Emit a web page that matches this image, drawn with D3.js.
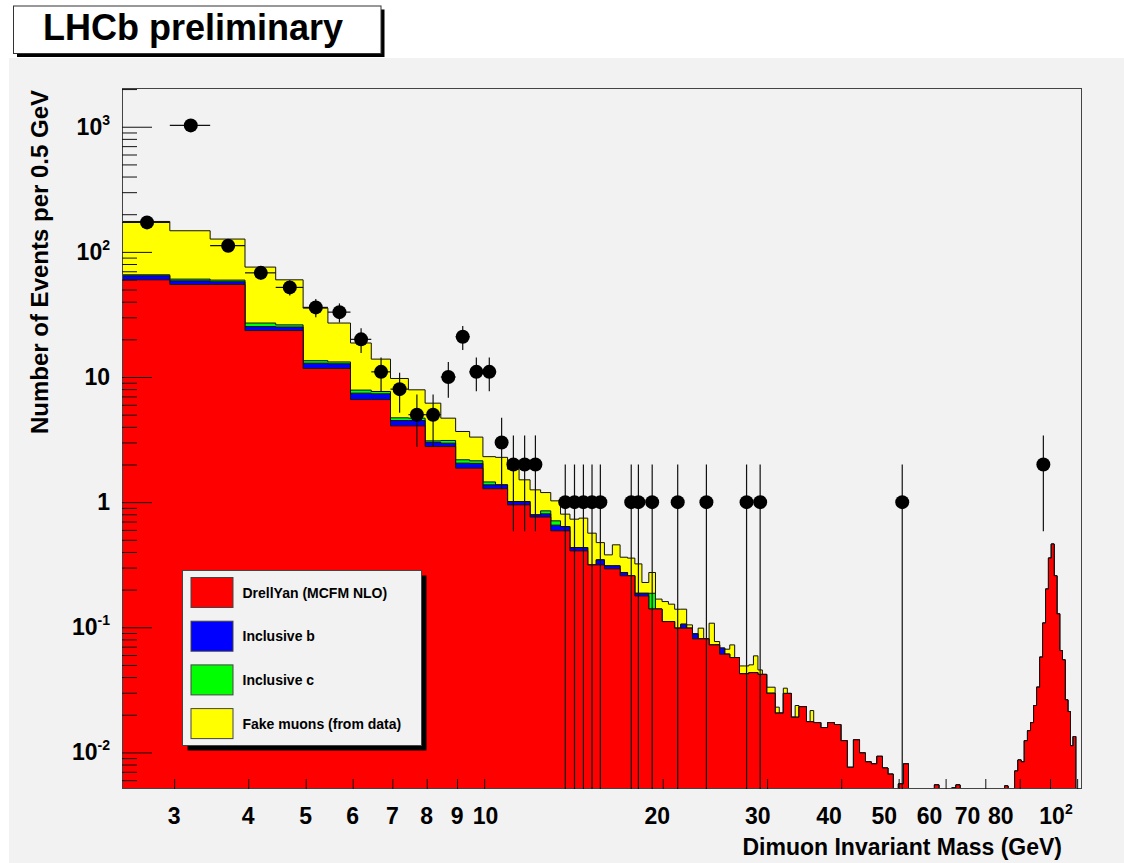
<!DOCTYPE html>
<html>
<head>
<meta charset="utf-8">
<script src="https://cdnjs.cloudflare.com/ajax/libs/d3/7.8.5/d3.min.js"></script>
<style>
  body { margin: 0; background: #ffffff; }
  svg text { font-family: "Liberation Sans", Arial, Helvetica, sans-serif; font-weight: bold; fill: #000; }
</style>
</head>
<body>
<svg id="chart" width="1124" height="863"></svg>
<script>
// ---- binning: 0.5 GeV bins starting at 2.45 GeV ----
const binLow = 2.45;
const binWidth = 0.5;
const nBins = 194;

// Drell-Yan (MCFM NLO) expectation per bin
const drellYan = [
  59.8, 54.9, 54.9, 23.5, 23.5, 11.7, 11.7, 6.6, 6.6, 4.07,
  4.07, 2.78, 2.78, 1.87, 1.87, 1.28, 1.28, 0.951, 0.951, 0.76,
  0.76, 0.59, 0.59, 0.408, 0.408, 0.315, 0.315, 0.293, 0.293, 0.258,
  0.258, 0.178, 0.178, 0.140, 0.140, 0.111, 0.111, 0.0984, 0.0984, 0.0984,
  0.0808, 0.0808, 0.0808, 0.0723, 0.0723, 0.0610, 0.0610, 0.0573, 0.0573, 0.0425,
  0.0425, 0.0434, 0.0434, 0.042, 0.042, 0.0297, 0.0297, 0.0206, 0.0206, 0.0296,
  0.0296, 0.0191, 0.0191, 0.0232, 0.0232, 0.0176, 0.0176, 0.0173, 0.0173, 0.0158,
  0.0158, 0.0173, 0.0173, 0.0167, 0.0167, 0.0124, 0.0124, 0.0076, 0.0076, 0.0126,
  0.0126, 0.0099, 0.0099, 0.0084, 0.0084, 0.0081, 0.0081, 0.0093, 0.0093, 0.0075,
  0.0075, 0.0067, 0.0067, 0, 0, 0.0056, 0.0056, 0.0081, 0.0081, 0,
  0, 0, 0, 0, 0, 0, 0, 0, 0, 0,
  0.0055, 0.0055, 0, 0, 0, 0, 0, 0, 0.0052, 0.0052,
  0.0055, 0.0055, 0, 0, 0, 0, 0, 0, 0, 0,
  0, 0, 0, 0, 0, 0, 0, 0, 0, 0,
  0, 0, 0, 0, 0, 0, 0.0054, 0.0054, 0, 0,
  0, 0, 0.0071, 0.0071, 0.0087, 0.0087, 0.0084, 0.0084, 0.0124, 0.0124,
  0.0149, 0.0149, 0.0173, 0.0173, 0.0237, 0.0237, 0.0332, 0.0332, 0.0577, 0.0577,
  0.108, 0.108, 0.202, 0.202, 0.357, 0.357, 0.462, 0.462, 0.258, 0.258,
  0.128, 0.128, 0.0651, 0.0651, 0.0549, 0.0549, 0.0263, 0.0263, 0.0212, 0.0212,
  0.0113, 0.0113, 0.0134, 0.0134
];

// Inclusive b contribution per bin (later bins are empty)
const inclusiveB = [
  4.6, 3.8, 2.8, 1.8, 1.6, 1.2, 1.05, 0.83, 0.74, 0.42,
  0.42, 0.23, 0.18, 0.18, 0.17, 0.095, 0.095, 0.06, 0.06, 0.032,
  0.046, 0.065, 0.048, 0.026, 0.026, 0, 0.031, 0.017, 0.017, 0.016,
  0, 0.009, 0.009, 0, 0, 0, 0, 0, 0.0075, 0,
  0.0078, 0, 0, 0, 0, 0.0071
];

// Inclusive c contribution per bin
const inclusiveC = [
  1.2, 1.9, 1.8, 1.7, 1.0, 0.6, 0.45, 0.43, 0.32, 0.23,
  0.20, 0.08, 0.15, 0.13, 0.10, 0.075, 0, 0, 0, 0,
  0.046, 0.054, 0, 0, 0, 0, 0, 0, 0, 0,
  0, 0, 0, 0.047
];

// Fake muons (from data) per bin
const fakeMuons = [
  109.4, 86.9, 67.1, 48.6, 33.7, 22.0, 13.8, 10.84, 6.24, 5.01,
  3.21, 3.09, 1.58, 1.49, 1.17, 0.86, 0.905, 0.824, 0.497, 0.462,
  0.341, 0.315, 0.164, 0.297, 0.311, 0.250, 0.129, 0.069, 0.146, 0.089,
  0.099, 0.134, 0.041, 0.087, 0.028, 0.0495, 0.042, 0.041, 0.0336, 0.0061,
  0, 0.0176, 0, 0.0355, 0.0046, 0, 0.0058, 0.015, 0, 0.0066,
  0.0066, 0.0067, 0.0157, 0.0036, 0, 0.0035, 0.0035, 0.0024, 0, 0.003,
  0, 0, 0.0046, 0, 0, 0, 0.004
];

// Observed events: bin index and count
const dataBins   = [0, 1, 2, 3, 4, 5, 6, 7, 8, 9, 10, 11, 12, 13, 14, 15, 16, 17, 18, 19,
                    22, 23, 24, 25, 26, 30, 31, 33, 37, 42, 50, 53, 96, 170];
const dataCounts = [172, 1025, 112, 68, 52, 36, 33, 20, 11, 8, 5, 5, 10, 21, 11, 11, 3, 2, 2, 2,
                    1, 1, 1, 1, 1, 1, 1, 1, 1, 1, 1, 1, 1, 2];

const xTickValues = [3, 4, 5, 6, 7, 8, 9, 10, 20, 30, 40, 50, 60, 70, 80, 90, 100];
const xLabelValues = [3, 4, 5, 6, 7, 8, 9, 10, 20, 30, 40, 50, 60, 70, 80, 100];
const yMajorValues = [0.01, 0.1, 1, 10, 100, 1000];

const legendLabels = ["DrellYan (MCFM NLO)", "Inclusive b", "Inclusive c", "Fake muons (from data)"];
const componentColors = ["#ff0000", "#0000ff", "#00ff00", "#ffff00"];

// ---- layout ----
const W = 1124, H = 863;
const frame = { left: 122, right: 1082, top: 88, bottom: 789 };

const svg = d3.select("#chart");

// canvas
svg.append("rect").attr("x", 0).attr("y", 0).attr("width", W).attr("height", H).attr("fill", "#ffffff");
svg.append("rect").attr("x", 9).attr("y", 58).attr("width", W - 9).attr("height", H - 58).attr("fill", "#f2f2f2");

const x = d3.scaleLog().domain([2.45, 101.9]).range([frame.left, frame.right]);
const y = d3.scaleLog().domain([0.0051, 2040]).range([frame.bottom, frame.top]);
// tick labels above 10 GeV are placed on their own log scale
const xLabelPos = d3.scaleLog().domain([10, 100]).range([485.5, 1056]);

const yOf = v => (v > 0 ? Math.min(frame.bottom, Math.max(frame.top, y(v))) : frame.bottom);

svg.append("defs").append("clipPath").attr("id", "frameClip")
  .append("rect")
  .attr("x", frame.left).attr("y", frame.top)
  .attr("width", frame.right - frame.left).attr("height", frame.bottom - frame.top);

// ---- stacked histogram ----
const edges = d3.range(nBins + 1).map(i => binLow + i * binWidth);
const comps = [drellYan, inclusiveB, inclusiveC, fakeMuons];
const cumulative = [];
let running = d3.range(nBins).map(() => 0);
comps.forEach(arr => {
  running = running.map((v, i) => v + (arr[i] || 0));
  cumulative.push(running.slice());
});

function stepPath(values) {
  const p = d3.path();
  p.moveTo(x(edges[0]), frame.bottom);
  values.forEach((v, i) => {
    const yy = yOf(v);
    p.lineTo(x(edges[i]), yy);
    p.lineTo(x(edges[i + 1]), yy);
  });
  p.lineTo(x(edges[nBins]), frame.bottom);
  p.closePath();
  return p.toString();
}

const histG = svg.append("g").attr("clip-path", "url(#frameClip)");
for (let k = cumulative.length - 1; k >= 0; k--) {
  histG.append("path")
    .attr("d", stepPath(cumulative[k]))
    .attr("fill", componentColors[k])
    .attr("stroke", "#111")
    .attr("stroke-width", 1)
    .attr("stroke-linejoin", "miter");
}

// ---- frame ----
svg.append("rect")
  .attr("x", frame.left + 0.5).attr("y", frame.top + 0.5)
  .attr("width", frame.right - frame.left - 1).attr("height", frame.bottom - frame.top - 1)
  .attr("fill", "none").attr("stroke", "#444").attr("stroke-width", 1);

// ---- axes (ticks point into the frame) ----
const xAxis = d3.axisBottom(x).tickValues(xTickValues).tickSizeInner(-10).tickSizeOuter(0).tickFormat("");
const gx = svg.append("g").attr("transform", `translate(0,${frame.bottom})`).call(xAxis);
gx.select(".domain").remove();
gx.selectAll(".tick line").attr("stroke", "#111");

const yMinor = [];
[-3, -2, -1, 0, 1, 2, 3].forEach(e => {
  for (let m = 2; m <= 9; m++) {
    const v = m * Math.pow(10, e);
    if (v > 0.0051 && v < 2040) yMinor.push(v);
  }
});
const yAxisMajor = d3.axisLeft(y).tickValues(yMajorValues).tickSizeInner(-30).tickSizeOuter(0).tickFormat("");
const yAxisMinor = d3.axisLeft(y).tickValues(yMinor).tickSizeInner(-15).tickSizeOuter(0).tickFormat("");
const gyMinor = svg.append("g").attr("transform", `translate(${frame.left},0)`).call(yAxisMinor);
const gyMajor = svg.append("g").attr("transform", `translate(${frame.left},0)`).call(yAxisMajor);
[gyMinor, gyMajor].forEach(g => {
  g.select(".domain").remove();
  g.selectAll(".tick line").attr("stroke", "#111");
});

// y tick labels: powers of ten with superscripts
const yLabelText = { 0.01: ["10", "-2"], 0.1: ["10", "-1"], 1: ["1", ""], 10: ["10", ""], 100: ["10", "2"], 1000: ["10", "3"] };
yMajorValues.forEach(v => {
  const [base, sup] = yLabelText[v];
  const t = svg.append("text")
    .attr("x", 110).attr("y", y(v) + 8)
    .attr("text-anchor", "end")
    .style("font-size", "23px");
  t.append("tspan").text(base);
  if (sup) t.append("tspan").attr("dy", -10).style("font-size", "14px").text(sup);
});

// x tick labels
xLabelValues.forEach(v => {
  const px = v < 10 ? x(v) : xLabelPos(v);
  const t = svg.append("text")
    .attr("x", px).attr("y", 824)
    .attr("text-anchor", "middle")
    .style("font-size", "23px");
  if (v === 100) {
    t.append("tspan").text("10");
    t.append("tspan").attr("dy", -10).style("font-size", "14px").text("2");
  } else {
    t.text(v);
  }
});

// axis titles
svg.append("text")
  .attr("x", 1062).attr("y", 855)
  .attr("text-anchor", "end")
  .style("font-size", "23px")
  .text("Dimuon Invariant Mass (GeV)");

svg.append("text")
  .attr("transform", "translate(48,262) rotate(-90)")
  .attr("text-anchor", "middle")
  .style("font-size", "24px")
  .text("Number of Events per 0.5 GeV");

// ---- data points with Poisson errors ----
const dataG = svg.append("g").attr("clip-path", "url(#frameClip)");
dataBins.forEach((b, i) => {
  const n = dataCounts[i];
  const lo = edges[b], hi = edges[b + 1];
  const cx = x(lo + binWidth / 2);
  const cy = y(n);
  const err = Math.sqrt(n);
  const yTop = yOf(n + err);
  const yBot = n - err > 0 ? yOf(n - err) : frame.bottom;
  dataG.append("line").attr("x1", cx).attr("x2", cx).attr("y1", yTop).attr("y2", yBot)
    .attr("stroke", "#111").attr("stroke-width", 1.2);
  dataG.append("line").attr("x1", x(lo)).attr("x2", x(hi)).attr("y1", cy).attr("y2", cy)
    .attr("stroke", "#111").attr("stroke-width", 1.2);
  dataG.append("circle").attr("cx", cx).attr("cy", cy).attr("r", 7).attr("fill", "#000");
});

// ---- legend ----
const leg = { x: 182.5, y: 570.5, w: 239, h: 175 };
svg.append("rect").attr("x", leg.x + 5).attr("y", leg.y + 5).attr("width", leg.w).attr("height", leg.h).attr("fill", "#000");
svg.append("rect").attr("x", leg.x).attr("y", leg.y).attr("width", leg.w).attr("height", leg.h)
  .attr("fill", "#f2f2f2").attr("stroke", "#444").attr("stroke-width", 1);
legendLabels.forEach((label, i) => {
  const rowY = leg.y + 7 + i * 43.7;
  svg.append("rect")
    .attr("x", leg.x + 8.5).attr("y", rowY).attr("width", 42).attr("height", 30)
    .attr("fill", componentColors[i]).attr("stroke", "#444").attr("stroke-width", 1);
  svg.append("text")
    .attr("x", leg.x + 60).attr("y", rowY + 20)
    .style("font-size", "14px")
    .text(label);
});

// ---- title box ----
svg.append("rect").attr("x", 17).attr("y", 9.5).attr("width", 367.5).attr("height", 47.5).attr("fill", "#000");
svg.append("rect").attr("x", 13.5).attr("y", 6).attr("width", 367.5).attr("height", 47.5)
  .attr("fill", "#ffffff").attr("stroke", "#333").attr("stroke-width", 1);
svg.append("text")
  .attr("x", 43).attr("y", 40)
  .style("font-size", "36px")
  .text("LHCb preliminary");
</script>
</body>
</html>
